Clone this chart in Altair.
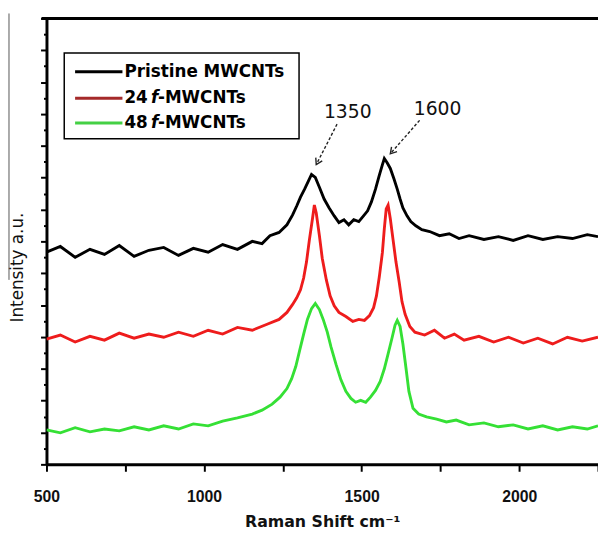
import altair as alt
import pandas as pd

# ---------------- data ----------------
sample_names = ["Pristine MWCNTs", "24 f-MWCNTs", "48 f-MWCNTs"]
line_colors = ["#000000", "#ee1c1c", "#35e035"]
legend_colors = ["#000000", "#a52a2a", "#44d044"]

pristine_shift = [500, 544, 591, 638, 684, 731, 778, 825, 872, 919,
                  966, 1013, 1059, 1106, 1153, 1184, 1209, 1238, 1263, 1281,
                  1294, 1306, 1319, 1331, 1341, 1353, 1366, 1381, 1397, 1413,
                  1428, 1444, 1459, 1475, 1491, 1506, 1519, 1531, 1544, 1556,
                  1566, 1572, 1581, 1591, 1603, 1613, 1622, 1631, 1644, 1656,
                  1672, 1691, 1716, 1747, 1778, 1809, 1841, 1888, 1934, 1981,
                  2028, 2075, 2122, 2169, 2216, 2250]
pristine_int = [6.66, 6.84, 6.50, 6.75, 6.59, 6.87, 6.53, 6.72, 6.81, 6.56,
                6.78, 6.66, 6.90, 6.75, 7.00, 6.93, 7.18, 7.28, 7.52, 7.83,
                8.11, 8.39, 8.64, 8.89, 9.10, 9.01, 8.70, 8.33, 8.05, 7.80,
                7.59, 7.68, 7.52, 7.68, 7.62, 7.80, 7.96, 8.24, 8.64, 9.07,
                9.41, 9.60, 9.47, 9.29, 8.95, 8.64, 8.33, 8.05, 7.80, 7.62,
                7.49, 7.37, 7.31, 7.18, 7.24, 7.09, 7.18, 7.06, 7.15, 7.03,
                7.18, 7.06, 7.15, 7.09, 7.21, 7.15]

f24_shift = [500, 544, 591, 638, 684, 731, 778, 825, 872, 919,
             966, 1013, 1059, 1106, 1153, 1200, 1238, 1263, 1281, 1294,
             1306, 1316, 1325, 1334, 1344, 1350, 1356, 1366, 1375, 1388,
             1400, 1413, 1428, 1450, 1472, 1491, 1509, 1525, 1538, 1547,
             1556, 1566, 1572, 1578, 1584, 1591, 1600, 1609, 1619, 1628,
             1638, 1653, 1669, 1700, 1731, 1763, 1794, 1825, 1872, 1919,
             1966, 2013, 2059, 2106, 2153, 2200, 2250]
f24_int = [3.93, 4.06, 3.84, 4.02, 3.90, 4.12, 3.96, 4.09, 3.99, 4.15,
           4.02, 4.21, 4.09, 4.30, 4.21, 4.40, 4.55, 4.77, 5.02, 5.23,
           5.48, 5.85, 6.35, 7.03, 7.71, 8.14, 7.89, 7.18, 6.47, 5.79,
           5.29, 4.98, 4.77, 4.64, 4.49, 4.55, 4.52, 4.67, 4.92, 5.29,
           5.88, 6.66, 7.40, 8.02, 8.14, 7.71, 7.03, 6.35, 5.73, 5.11,
           4.71, 4.33, 4.15, 4.06, 4.21, 3.96, 4.09, 3.90, 4.02, 3.84,
           3.99, 3.81, 3.96, 3.78, 3.99, 3.87, 3.99]

f48_shift = [500, 544, 591, 638, 684, 731, 778, 825, 872, 919,
             966, 1013, 1059, 1106, 1153, 1184, 1216, 1241, 1263, 1278,
             1291, 1303, 1316, 1328, 1341, 1353, 1366, 1378, 1391, 1403,
             1419, 1434, 1450, 1466, 1481, 1497, 1513, 1528, 1544, 1559,
             1572, 1584, 1597, 1606, 1613, 1622, 1631, 1641, 1650, 1663,
             1681, 1706, 1738, 1769, 1800, 1841, 1888, 1934, 1981, 2028,
             2075, 2122, 2169, 2216, 2250]
f48_int = [1.08, 0.99, 1.15, 1.02, 1.11, 1.05, 1.18, 1.08, 1.21, 1.11,
           1.27, 1.21, 1.36, 1.46, 1.58, 1.70, 1.89, 2.11, 2.38, 2.69,
           3.07, 3.56, 4.09, 4.55, 4.89, 5.05, 4.86, 4.55, 4.15, 3.68,
           3.13, 2.66, 2.29, 2.07, 1.95, 2.01, 1.95, 2.11, 2.32, 2.60,
           3.00, 3.47, 3.99, 4.37, 4.52, 4.33, 3.78, 3.00, 2.29, 1.76,
           1.58, 1.49, 1.42, 1.33, 1.39, 1.24, 1.30, 1.18, 1.24, 1.11,
           1.21, 1.08, 1.18, 1.11, 1.21]

x_ticks = [500, 750, 1000, 1250, 1500, 1750, 2000, 2250]
y_ticks = [0, 0.5, 1, 1.5, 2, 2.5, 3, 3.5, 4, 4.5, 5, 5.5, 6, 6.5, 7,
           7.5, 8, 8.5, 9, 9.5, 10, 10.5, 11, 11.5, 12, 12.5, 13, 13.5, 14]

peak_labels = ["1350", "1600"]
peak_label_x = [1456, 1741]
peak_label_y = [11.05, 11.15]
arrow_start_x = [1422, 1684]
arrow_start_y = [10.68, 10.80]
arrow_tip_x = [1356, 1591]
arrow_tip_y = [9.41, 9.75]

# ---------------- build tables ----------------
frames = []
for name, xs, ys in zip(sample_names,
                        [pristine_shift, f24_shift, f48_shift],
                        [pristine_int, f24_int, f48_int]):
    frames.append(pd.DataFrame({"shift": xs, "intensity": ys, "sample": name}))
spectra = pd.concat(frames, ignore_index=True)

ann = pd.DataFrame({"label": peak_labels, "lx": peak_label_x, "ly": peak_label_y,
                    "sx": arrow_start_x, "sy": arrow_start_y,
                    "tx": arrow_tip_x, "ty": arrow_tip_y})
dummy = pd.DataFrame({"d": [0]})

W, H = 559, 452
x_scale = alt.Scale(domain=[500, 2250], nice=False, zero=False)
y_scale = alt.Scale(domain=[0, 14], nice=False, zero=False)

x_axis = alt.Axis(values=x_ticks,
                  labelExpr="(datum.value % 500 === 0 && datum.value < 2250) ? format(datum.value, 'd') : ''",
                  title="Raman Shift cm⁻¹", titleFont="DejaVu Sans", titleFontWeight="bold",
                  titleFontSize=16, titleColor="#111111", titlePadding=9,
                  labelFont="Liberation Sans", labelFontWeight="bold", labelFontSize=16,
                  labelColor="#111111", labelPadding=18, labelFlush=False, labelOverlap=False,
                  tickSize=7, tickWidth=2, tickColor="black",
                  domainColor="black", domainWidth=3, grid=False)

y_axis = alt.Axis(values=y_ticks, labels=False,
                  title="Intensity a.u.", titleFont="DejaVu Sans", titleFontSize=17,
                  titleFontWeight="normal", titleColor="#111111", titleAngle=270,
                  titleX=-24, titleY=252, titleAlign="center", titleBaseline="alphabetic",
                  tickSize={"condition": {"test": "datum.value % 1 === 0", "value": 6}, "value": 3},
                  tickWidth=2, tickColor="black",
                  domainColor="black", domainWidth=3, grid=False)


def xenc(field):
    return alt.X(field, scale=x_scale, axis=x_axis, title="Raman Shift cm⁻¹")


def yenc(field):
    return alt.Y(field, scale=y_scale, axis=y_axis, title="Intensity a.u.")


lines = alt.Chart(spectra).mark_line(strokeWidth=2.9, clip=True).encode(
    x=xenc("shift:Q"),
    y=yenc("intensity:Q"),
    color=alt.Color("sample:N", scale=alt.Scale(domain=sample_names, range=line_colors), legend=None),
)

arrow_lines = alt.Chart(ann).mark_rule(strokeDash=[3, 2], strokeWidth=1.4, color="#222222").encode(
    x=xenc("sx:Q"), y=yenc("sy:Q"), x2="tx:Q", y2="ty:Q",
)

heads = []
for i, ang in enumerate([27, 41]):
    heads.append(alt.Chart(ann.iloc[[i]]).mark_point(
        shape="M-0.6,-1L0,0L0.6,-1", size=150, filled=False, strokeWidth=1.4,
        color="#222222", angle=ang, opacity=1).encode(
        x=xenc("tx:Q"), y=yenc("ty:Q")))

peak_text = alt.Chart(ann).mark_text(font="DejaVu Sans", fontSize=19, color="#111111",
                                     align="center", baseline="middle").encode(
    x=xenc("lx:Q"), y=yenc("ly:Q"), text="label:N",
)

# ---- legend drawn by hand (italic f) ----
legend_box = alt.Chart(dummy).mark_rect(fill="white", stroke="black", strokeWidth=1.5).encode(
    x=alt.value(18), x2=alt.value(256), y=alt.value(35), y2=alt.value(122))

row_y = [54, 81, 106]
legend_layers = [legend_box]
for i in range(3):
    legend_layers.append(alt.Chart(dummy).mark_rule(strokeWidth=3, color=legend_colors[i]).encode(
        x=alt.value(29), x2=alt.value(77), y=alt.value(row_y[i])))


def ltext(txt, x, y, italic=False):
    return alt.Chart(dummy).mark_text(text=txt, align="left", baseline="middle",
                                      font="DejaVu Sans", fontSize=17, fontWeight="bold",
                                      fontStyle="italic" if italic else "normal",
                                      color="black").encode(x=alt.value(x), y=alt.value(y))


legend_layers.append(ltext("Pristine MWCNTs", 79, row_y[0]))
for i, num in [(1, "24"), (2, "48")]:
    legend_layers.append(ltext(num, 79, row_y[i]))
    legend_layers.append(ltext("f", 106, row_y[i], italic=True))
    legend_layers.append(ltext("-MWCNTs", 113, row_y[i]))

top_line = alt.Chart(dummy).mark_rule(color="black", strokeWidth=3).encode(
    x=alt.value(-5), x2=alt.value(W), y=alt.value(0))
artifact = alt.Chart(dummy).mark_rule(color="#555555", strokeWidth=1).encode(
    x=alt.value(-38), y=alt.value(-5), y2=alt.value(265))

chart = alt.layer(lines, arrow_lines, *heads, peak_text, *legend_layers, top_line, artifact).properties(
    width=W, height=H,
    padding={"left": 39, "top": 7, "right": 0, "bottom": 64},
    autosize=alt.AutoSizeParams(type="none"),
    background="white",
).configure_view(stroke=None)

chart.save("out.html", embed_options={"renderer": "svg", "actions": False})
